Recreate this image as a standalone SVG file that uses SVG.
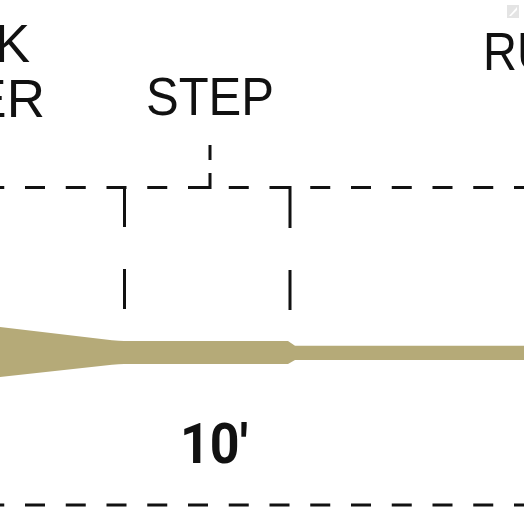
<svg xmlns="http://www.w3.org/2000/svg" width="524" height="524" viewBox="0 0 524 524">
  <style>
    .lbl { font-family: "Liberation Sans", Arial, sans-serif; font-size: 53px; fill: #111; }
    .dim { font-family: "Roboto", "Liberation Sans", Arial, sans-serif; font-size: 56px; font-weight: bold; fill: #111; }
    .dash { fill: none; stroke: #111; stroke-width: 3; stroke-dasharray: 20 20.75; }
    .solid { fill: none; stroke: #111; stroke-width: 3; }
  </style>
  <rect width="524" height="524" fill="#ffffff"/>

  <g id="fly-line">
    <path d="M0,327 L112,340.2 Q119,341 124,341 L288,341 L295,345.7 L524,345.7 L524,360 L295,360 L288,364 L124,364 Q119,364 112,364.7 L0,377 Z" fill="#b5aa78"/>
  </g>

  <g id="connectors">
    <path class="dash" d="M-15.75,187.5 H524"/>
    <path class="dash" d="M-15.75,505 H524"/>
    <path class="solid" d="M124.5,186 V227 M124.5,269 V309"/>
    <path class="solid" d="M290,186 V228 M290,270 V310"/>
    <path class="solid" d="M210,145 V160 M210,173 V189 M207,187.5 H211.5"/>
  </g>

  <g id="label-taper">
    <text class="lbl" x="30" y="62" text-anchor="end">K</text>
    <text class="lbl" x="45" y="117" text-anchor="end">ER</text>
  </g>
  <g id="label-step">
    <text class="lbl" x="146" y="115" textLength="128" lengthAdjust="spacingAndGlyphs">STEP</text>
  </g>
  <g id="label-running">
    <text class="lbl" x="483" y="70" textLength="68" lengthAdjust="spacingAndGlyphs">RU</text>
  </g>
  <g id="label-length">
    <text class="dim" x="180" y="463" textLength="68" lengthAdjust="spacingAndGlyphs">10′</text>
  </g>

  <g id="corner-icon">
    <rect x="507" y="5" width="12" height="13" fill="#e4e4e4"/>
    <path d="M509,16 L517,7 L517,10 L511,16 Z" fill="#ffffff"/>
  </g>
</svg>
